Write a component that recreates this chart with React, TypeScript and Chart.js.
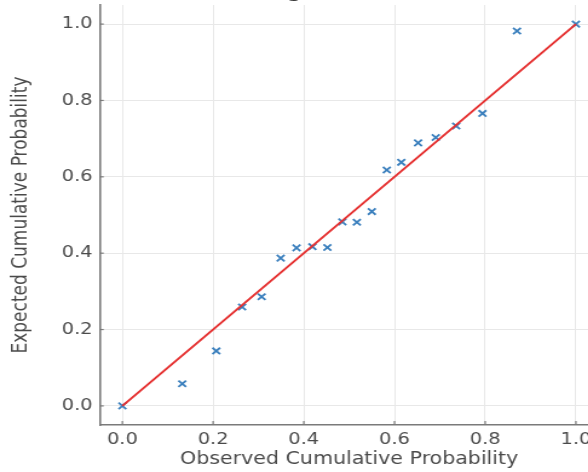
import React, { useEffect, useRef } from "react";
import { Chart, registerables } from "chart.js";

Chart.register(...registerables);

const observed = [0, 0.132, 0.207, 0.264, 0.307, 0.349, 0.384, 0.419, 0.452, 0.485, 0.517, 0.55, 0.583, 0.615, 0.652, 0.691, 0.736, 0.794, 0.87, 1.0];
const expected = [0, 0.058, 0.144, 0.259, 0.286, 0.387, 0.414, 0.417, 0.415, 0.482, 0.481, 0.509, 0.618, 0.638, 0.689, 0.703, 0.733, 0.766, 0.982, 1.0];
const refLineX = [0, 1];
const refLineY = [0, 1];
const xTicks = [0, 0.2, 0.4, 0.6, 0.8, 1.0];
const yTicks = [0, 0.2, 0.4, 0.6, 0.8, 1.0];

const titleText = "P-P Plot for Log-Normal Model";
const xTitle = "Observed Cumulative Probability";
const yTitle = "Expected Cumulative Probability";

const FONT = "'DejaVu Sans', sans-serif";
const TEXT = "#4a4a4a";
const SPINE = "#7a7a7a";
const GRID = "#e8e8e8";

const CW = 520;
const CH = 498;

const inwardTicks = {
  id: "inwardTicks",
  afterDatasetsDraw(chart: any) {
    const { ctx, chartArea, scales } = chart;
    ctx.save();
    ctx.strokeStyle = SPINE;
    ctx.lineWidth = 1.2;
    const xs = scales.x;
    const ys = scales.y;
    xTicks.forEach((v) => {
      const px = xs.getPixelForValue(v);
      ctx.beginPath();
      ctx.moveTo(px, chartArea.bottom);
      ctx.lineTo(px, chartArea.bottom - 4);
      ctx.stroke();
    });
    yTicks.forEach((v) => {
      const py = ys.getPixelForValue(v);
      ctx.beginPath();
      ctx.moveTo(chartArea.left, py);
      ctx.lineTo(chartArea.left + 3.3, py);
      ctx.stroke();
    });
    ctx.restore();
  },
};

export default function App() {
  const ref = useRef<HTMLCanvasElement | null>(null);

  useEffect(() => {
    if (!ref.current) return;
    const chart = new Chart(ref.current, {
      type: "scatter",
      data: {
        datasets: [
          {
            label: "Reference",
            data: refLineX.map((x, i) => ({ x, y: refLineY[i] })),
            showLine: true,
            borderColor: "#e53030",
            backgroundColor: "#e53030",
            borderWidth: 2,
            pointRadius: 0,
            order: 0,
          },
          {
            label: "Points",
            data: observed.map((x, i) => ({ x, y: expected[i] })),
            pointStyle: "crossRot",
            pointRadius: 4.5,
            borderColor: "#3a7fbd",
            backgroundColor: "#3a7fbd",
            borderWidth: 1.8,
            order: 1,
          },
        ],
      },
      options: {
        responsive: false,
        devicePixelRatio: 1,
        animation: false,
        layout: { padding: { left: 0, top: 0, right: CW - 494.7, bottom: 0 } },
        plugins: {
          legend: { display: false },
          tooltip: { enabled: false },
          title: {
            display: true,
            text: titleText,
            color: "#333",
            font: { family: FONT, size: 20, weight: "normal" },
            padding: { top: 6, bottom: 1 },
          },
        },
        scales: {
          x: {
            type: "linear",
            min: -0.05,
            max: 1.05,
            afterBuildTicks: (s: any) => {
              s.ticks = xTicks.map((v) => ({ value: v }));
            },
            afterFit: (s: any) => {
              s.height = 47;
            },
            ticks: {
              callback: (v: any) => Number(v).toFixed(1),
              font: { family: FONT, size: 16 },
              color: TEXT,
              padding: 5,
              maxRotation: 0,
              autoSkip: false,
            },
            grid: { color: GRID, lineWidth: 1, drawTicks: false },
            border: { display: true, color: SPINE, width: 1.6 },
            title: {
              display: true,
              text: xTitle,
              color: TEXT,
              font: { family: FONT, size: 17 },
              padding: { top: 0, bottom: 2 },
            },
          },
          y: {
            type: "linear",
            min: -0.05,
            max: 1.05,
            afterBuildTicks: (s: any) => {
              s.ticks = yTicks.map((v) => ({ value: v }));
            },
            afterFit: (s: any) => {
              s.width = 82.4;
            },
            ticks: {
              callback: (v: any) => Number(v).toFixed(1),
              font: { family: FONT, size: 16 },
              color: TEXT,
              padding: 6,
              autoSkip: false,
            },
            grid: { color: GRID, lineWidth: 1, drawTicks: false },
            border: { display: true, color: SPINE, width: 1.6 },
            title: {
              display: true,
              text: yTitle,
              color: TEXT,
              font: { family: FONT, size: 17 },
              padding: { top: 7.7, bottom: 0 },
            },
          },
        },
      } as any,
      plugins: [inwardTicks],
    });
    return () => chart.destroy();
  }, []);

  return (
    <div
      style={{
        position: "fixed",
        left: 0,
        top: 0,
        width: 588,
        height: 472,
        overflow: "hidden",
        background: "#fff",
      }}
    >
      <div
        style={{
          position: "absolute",
          left: 0,
          top: -26,
          width: CW,
          height: CH,
          transform: "scaleX(1.21)",
          transformOrigin: "0 0",
        }}
      >
        <canvas ref={ref} width={CW} height={CH} style={{ display: "block", width: CW, height: CH }} />
      </div>
    </div>
  );
}
